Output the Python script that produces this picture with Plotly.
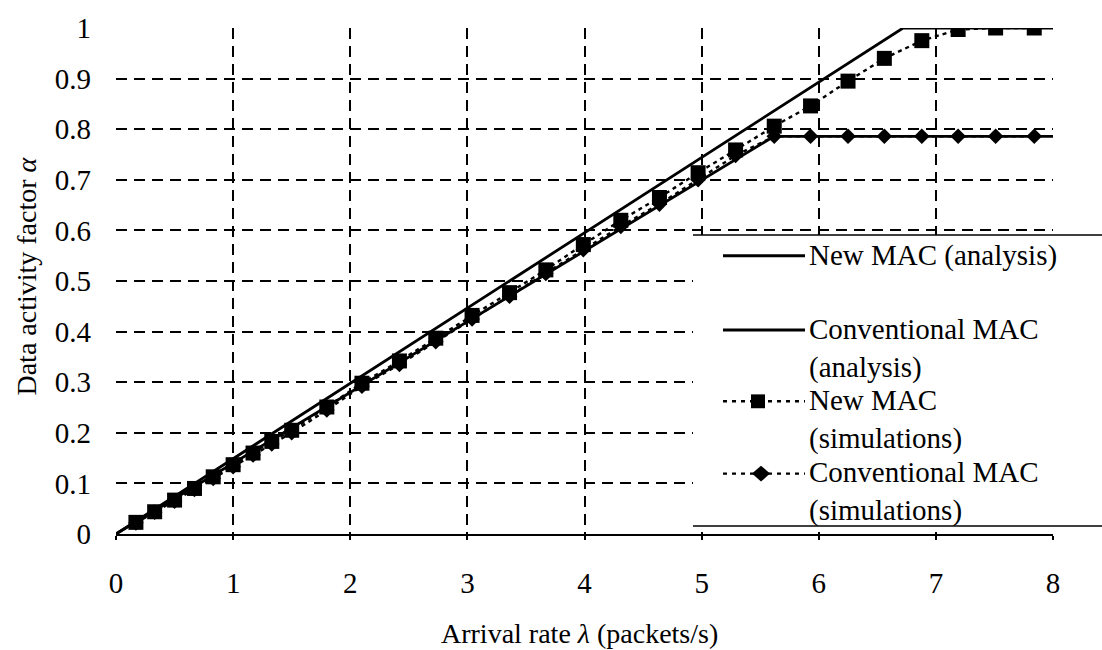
import plotly.graph_objects as go

# Arrival rate (packets/s) for the simulation runs
lam_sim = [0.17, 0.33, 0.5, 0.67, 0.83, 1.0, 1.17, 1.33, 1.5, 1.8, 2.1, 2.42,
           2.73, 3.04, 3.36, 3.67, 3.99, 4.31, 4.64, 4.97, 5.29, 5.62, 5.93,
           6.25, 6.56, 6.88, 7.19, 7.51, 7.84]

# Data activity factor from simulations
new_sim = [0.023, 0.044, 0.067, 0.09, 0.113, 0.137, 0.16, 0.183, 0.205, 0.251,
           0.298, 0.342, 0.387, 0.432, 0.477, 0.522, 0.572, 0.62, 0.665, 0.714,
           0.759, 0.806, 0.846, 0.895, 0.94, 0.975, 0.997, 1.0, 1.0]
conv_sim = [0.022, 0.043, 0.065, 0.088, 0.11, 0.133, 0.156, 0.178, 0.2, 0.245,
            0.292, 0.335, 0.38, 0.425, 0.47, 0.515, 0.562, 0.608, 0.652, 0.7,
            0.748, 0.786, 0.786, 0.786, 0.786, 0.786, 0.786, 0.786, 0.786]

# Analytical curves (linear growth up to saturation)
lam_new_an = [0, 6.72, 8]
new_an = [0, 1.0, 1.0]
lam_conv_an = [0, 5.62, 8]
conv_an = [0, 0.786, 0.786]

x_ticks = [0, 1, 2, 3, 4, 5, 6, 7, 8]
y_ticks = [0, 0.1, 0.2, 0.3, 0.4, 0.5, 0.6, 0.7, 0.8, 0.9, 1]
y_tick_text = ["0", "0.1", "0.2", "0.3", "0.4", "0.5", "0.6", "0.7", "0.8", "0.9", "1"]

legend_names = ["New MAC (analysis)", "Conventional MAC<br>(analysis)",
                "New MAC<br>(simulations)", "Conventional MAC<br>(simulations)"]
x_title = "Arrival rate <i>λ</i> (packets/s)"
y_title = "Data activity factor <i>α</i>"

FONT = "Liberation Serif"
W, H = 1102, 650
L, R, T, B = 116, 1053, 23, 534

fig = go.Figure()
fig.add_trace(go.Scatter(x=lam_new_an, y=new_an, mode="lines",
                         line=dict(color="black", width=2.8), name=legend_names[0]))
fig.add_trace(go.Scatter(x=lam_conv_an, y=conv_an, mode="lines",
                         line=dict(color="black", width=2.8), name=legend_names[1]))
fig.add_trace(go.Scatter(x=lam_sim, y=new_sim, mode="lines+markers",
                         line=dict(color="black", width=2.4, dash="4px,4px"),
                         marker=dict(symbol="square", size=15, color="black"),
                         name=legend_names[2]))
fig.add_trace(go.Scatter(x=lam_sim, y=conv_sim, mode="lines+markers",
                         line=dict(color="black", width=2.4, dash="4px,4px"),
                         marker=dict(symbol="diamond", size=12, color="black"),
                         name=legend_names[3]))


def px(xp):
    return (xp - L) / (R - L)


def py(yp):
    return (B - yp) / (B - T)


shapes = []
annotations = []

# legend panel
shapes.append(dict(type="rect", xref="paper", yref="paper",
                   x0=px(693), x1=px(1102), y0=py(526), y1=py(232),
                   fillcolor="white", line=dict(width=0), layer="above"))
for yl in (232, 526):
    shapes.append(dict(type="line", xref="paper", yref="paper",
                       x0=px(693), x1=px(1102), y0=py(yl), y1=py(yl),
                       line=dict(color="black", width=1.5), layer="above"))

rows = [253, 328, 400, 473]
line_gap = 37
for i, yr in enumerate(rows):
    if i < 2:
        shapes.append(dict(type="line", xref="paper", yref="paper",
                           x0=px(723), x1=px(805), y0=py(yr), y1=py(yr),
                           line=dict(color="black", width=2.8), layer="above"))
    else:
        shapes.append(dict(type="line", xref="paper", yref="paper",
                           x0=px(723), x1=px(805), y0=py(yr), y1=py(yr),
                           line=dict(color="black", width=2.4, dash="4px,5px"),
                           layer="above"))
    two_lines = "<br>" in legend_names[i]
    yc = yr + line_gap / 2 if two_lines else yr
    annotations.append(dict(xref="paper", yref="paper", x=px(807), y=py(yc),
                            xanchor="left", yanchor="middle", align="left",
                            text=legend_names[i], showarrow=False,
                            font=dict(family=FONT, size=29, color="black")))

# legend markers
cx, cy = 758, rows[2]
shapes.append(dict(type="rect", xref="paper", yref="paper",
                   x0=px(cx - 7), x1=px(cx + 7), y0=py(cy + 7), y1=py(cy - 7),
                   fillcolor="black", line=dict(width=0), layer="above"))
cx, cy = 761, rows[3]
path = "M {} {} L {} {} L {} {} L {} {} Z".format(
    px(cx - 9), py(cy), px(cx), py(cy - 8), px(cx + 9), py(cy), px(cx), py(cy + 8))
shapes.append(dict(type="path", xref="paper", yref="paper", path=path,
                   fillcolor="black", line=dict(width=0), layer="above"))

# axis titles
annotations.append(dict(xref="paper", yref="paper", x=px(579), y=py(634),
                        xanchor="center", yanchor="middle", text=x_title,
                        showarrow=False,
                        font=dict(family=FONT, size=28, color="black")))
annotations.append(dict(xref="paper", yref="paper", x=px(27), y=py(274),
                        xanchor="center", yanchor="middle", text=y_title,
                        textangle=-90, showarrow=False,
                        font=dict(family=FONT, size=28, color="black")))

fig.update_layout(
    width=W, height=H,
    margin=dict(l=L, r=W - R, t=T, b=H - B, pad=0),
    paper_bgcolor="white", plot_bgcolor="white",
    showlegend=False,
    font=dict(family=FONT, color="black"),
    shapes=shapes, annotations=annotations,
)
fig.update_xaxes(
    range=[0, 8], tickvals=x_ticks, ticktext=[str(v) for v in x_ticks],
    showgrid=True, gridcolor="black", gridwidth=1.6, griddash="11px,7px",
    zeroline=True, zerolinecolor="rgba(0,0,0,0)", zerolinewidth=1,
    showline=True, linecolor="black", linewidth=2,
    ticks="outside", ticklen=4, tickcolor="black", tickwidth=1.5,
    tickfont=dict(family=FONT, size=29, color="black"),
    ticklabelstandoff=18,
)
fig.update_yaxes(
    range=[0, 1], tickvals=y_ticks, ticktext=y_tick_text,
    showgrid=True, gridcolor="black", gridwidth=1.6, griddash="11px,7px",
    zeroline=False, showline=False, ticks="",
    tickfont=dict(family=FONT, size=29, color="black"),
    ticklabelstandoff=24,
)

fig.write_html("out.html")
